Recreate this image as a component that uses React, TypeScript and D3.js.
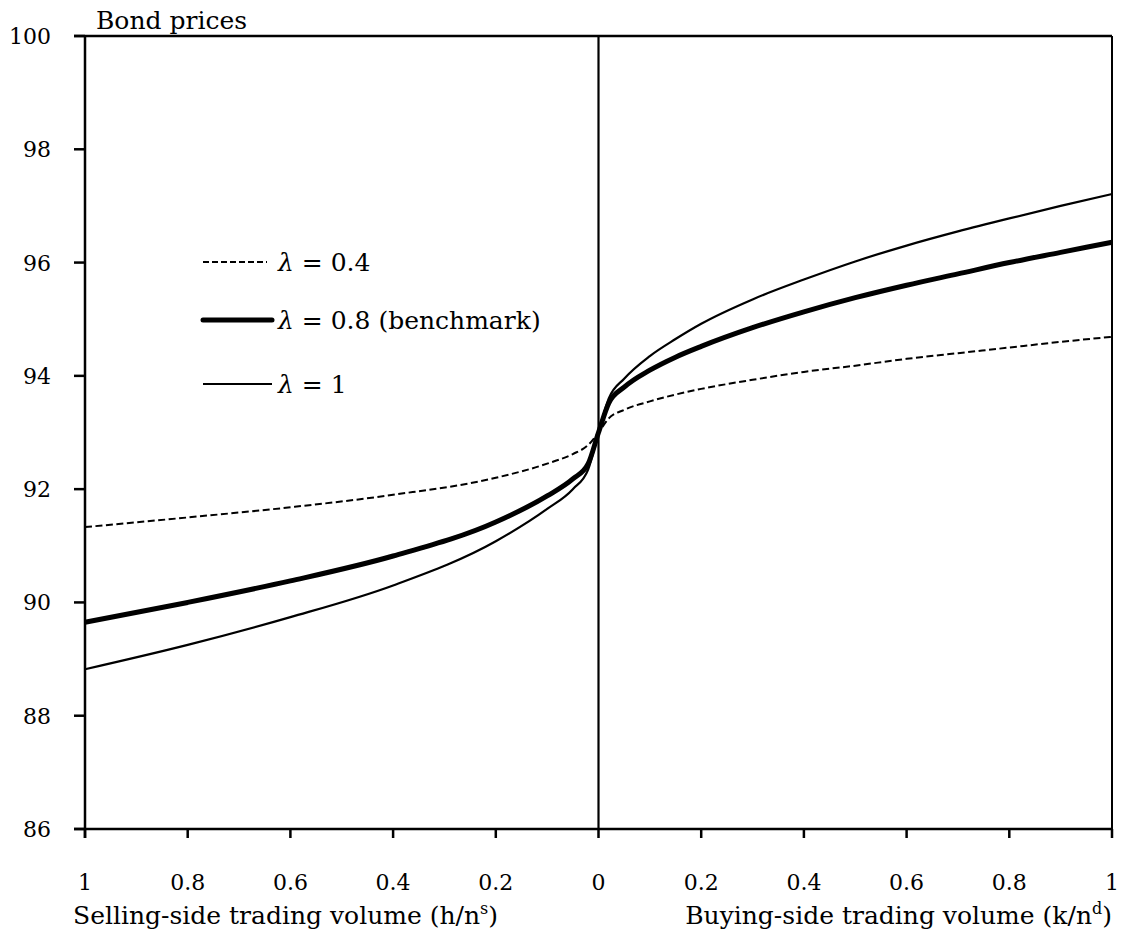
import React from "react";
import * as d3 from "d3";

// Trading volume: negative = selling side (h/n^s), positive = buying side (k/n^d)
const volumes = [-1, -0.8, -0.6, -0.4, -0.2, -0.1, -0.05, -0.02, 0, 0.02, 0.05, 0.1, 0.15, 0.2, 0.3, 0.4, 0.5, 0.6, 0.7, 0.8, 0.9, 1];

// Bond prices for each lambda
const priceLambda04 = [91.33, 91.5, 91.68, 91.9, 92.2, 92.45, 92.62, 92.78, 93.0, 93.25, 93.4, 93.55, 93.67, 93.77, 93.93, 94.07, 94.18, 94.3, 94.4, 94.5, 94.6, 94.69];
const priceLambda08 = [89.65, 90.0, 90.38, 90.82, 91.42, 91.88, 92.18, 92.45, 93.0, 93.52, 93.8, 94.1, 94.33, 94.52, 94.85, 95.13, 95.38, 95.6, 95.8, 96.0, 96.18, 96.36];
const priceLambda1 = [88.82, 89.25, 89.74, 90.3, 91.08, 91.65, 92.0, 92.35, 93.0, 93.6, 93.95, 94.35, 94.65, 94.92, 95.35, 95.7, 96.02, 96.3, 96.55, 96.78, 97.0, 97.21];

const yTicks = [86, 88, 90, 92, 94, 96, 98, 100];
const xTicks = [-1, -0.8, -0.6, -0.4, -0.2, 0, 0.2, 0.4, 0.6, 0.8, 1];

const legendItems = [
  { label: "= 0.4", values: priceLambda04, width: 2, dash: "7,3.5" },
  { label: "= 0.8 (benchmark)", values: priceLambda08, width: 5, dash: null },
  { label: "= 1", values: priceLambda1, width: 2.2, dash: null },
];

const FONT = "'DejaVu Serif', 'Liberation Serif', serif";

export default function App() {
  const W = 1122;
  const H = 938;
  const left = 85;
  const right = 1112;
  const top = 36;
  const bottom = 829;

  const x = d3.scaleLinear().domain([-1, 1]).range([left, right]);
  const y = d3.scaleLinear().domain([86, 100]).range([bottom, top]);

  const line = d3
    .line<number>()
    .x((_, i) => x(volumes[i]))
    .y((d) => y(d))
    .curve(d3.curveMonotoneX);

  const fmt = (v: number) => {
    const a = Math.abs(v);
    return a === 0 ? "0" : a === 1 ? "1" : String(+a.toFixed(1));
  };

  const legendX0 = 203;
  const legendX1 = 272;
  const legendYs = [262, 320, 384];

  return (
    <svg
      width={W}
      height={H}
      style={{ position: "absolute", left: 0, top: 0, background: "#fff" }}
      fontFamily={FONT}
    >
      <rect x={0} y={0} width={W} height={H} fill="#fff" />

      {/* series */}
      {legendItems.map((s, i) => (
        <path
          key={"s" + i}
          d={line(s.values) || ""}
          fill="none"
          stroke="#000"
          strokeWidth={s.width}
          strokeDasharray={s.dash || undefined}
          strokeLinejoin="round"
        />
      ))}

      {/* frame */}
      <line x1={left - 11} x2={right} y1={top} y2={top} stroke="#000" strokeWidth={2.5} />
      <line x1={right} x2={right} y1={top} y2={bottom} stroke="#000" strokeWidth={2} />
      <line x1={x(0)} x2={x(0)} y1={top} y2={bottom} stroke="#000" strokeWidth={2.2} />
      <line x1={left} x2={left} y1={top} y2={bottom + 9} stroke="#000" strokeWidth={2.5} />
      <line x1={left - 11} x2={right} y1={bottom} y2={bottom} stroke="#000" strokeWidth={2.5} />

      {/* y ticks */}
      {yTicks.map((t) => (
        <g key={"y" + t}>
          <line x1={left - 11} x2={left} y1={y(t)} y2={y(t)} stroke="#000" strokeWidth={2.5} />
          <text x={51} y={y(t) + 8} textAnchor="end" fontSize={22} fill="#000">
            {t}
          </text>
        </g>
      ))}

      {/* x ticks */}
      {xTicks.map((t) => (
        <g key={"x" + t}>
          <line x1={x(t)} x2={x(t)} y1={bottom} y2={bottom + 9} stroke="#000" strokeWidth={2.5} />
          <text x={x(t)} y={890} textAnchor="middle" fontSize={22} fill="#000">
            {fmt(t)}
          </text>
        </g>
      ))}

      {/* titles */}
      <text x={96} y={29} fontSize={25} fill="#000">
        Bond prices
      </text>
      <text x={73} y={924} fontSize={25} fill="#000">
        Selling-side trading volume (h/n
        <tspan fontSize={16} dy={-10}>s</tspan>
        <tspan dy={10}>)</tspan>
      </text>
      <text x={right} y={924} fontSize={25} fill="#000" textAnchor="end">
        Buying-side trading volume (k/n
        <tspan fontSize={16} dy={-10}>d</tspan>
        <tspan dy={10}>)</tspan>
      </text>

      {/* legend */}
      {legendItems.map((s, i) => (
        <g key={"l" + i}>
          <line
            x1={legendX0}
            x2={i === 0 ? 267 : legendX1}
            y1={legendYs[i]}
            y2={legendYs[i]}
            stroke="#000"
            strokeWidth={i === 1 ? 5 : 2}
            strokeDasharray={i === 0 ? "6,3" : undefined}
            strokeLinecap={i === 1 ? "round" : "butt"}
          />
          <text x={278} y={legendYs[i] + 9} fontSize={25} fill="#000">
            <tspan fontStyle="italic">λ</tspan> {s.label}
          </text>
        </g>
      ))}
    </svg>
  );
}
